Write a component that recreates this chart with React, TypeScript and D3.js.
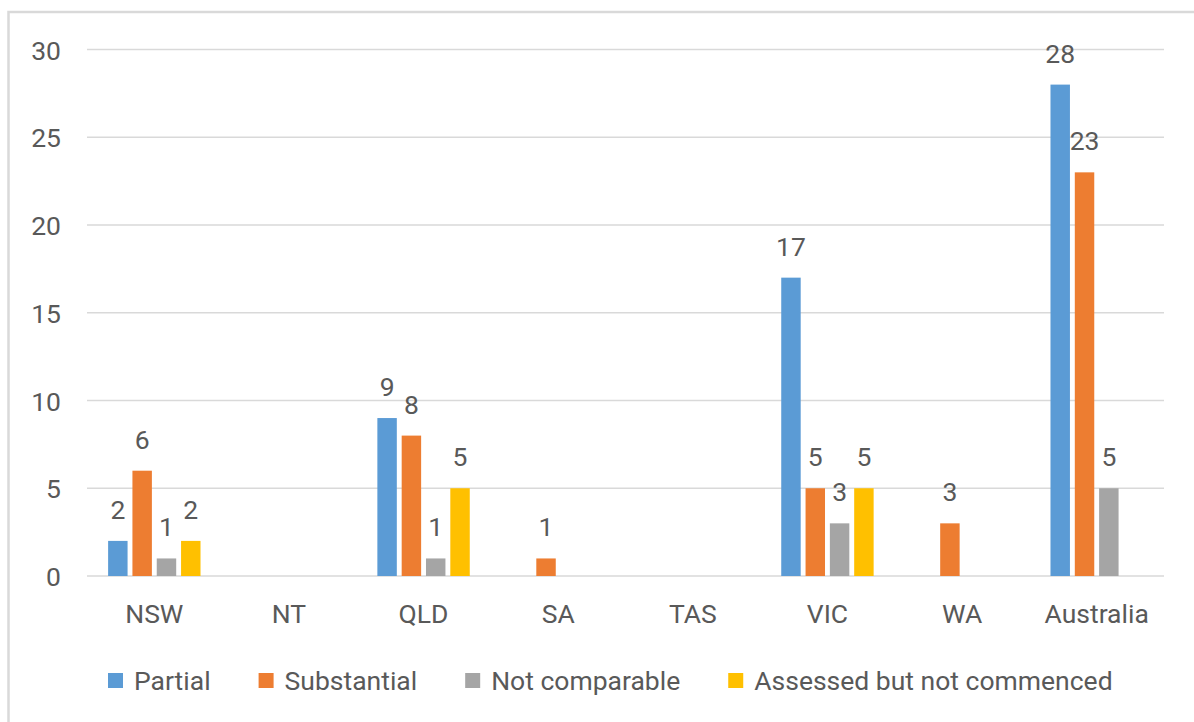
import React, { useRef, useEffect } from 'react';
import * as d3 from 'd3';

const categories = ['NSW', 'NT', 'QLD', 'SA', 'TAS', 'VIC', 'WA', 'Australia'];
const seriesNames = ['Partial', 'Substantial', 'Not comparable', 'Assessed but not commenced'];
const partial = [2, null, 9, null, null, 17, null, 28];
const substantial = [6, null, 8, 1, null, 5, 3, 23];
const notComparable = [1, null, 1, null, null, 3, null, 5];
const assessed = [2, null, 5, null, null, 5, null, null];
const yTicks = [0, 5, 10, 15, 20, 25, 30];
const colors = ['#5B9BD5', '#ED7D31', '#A5A5A5', '#FFC000'];

const W = 1194;
const H = 722;
const FONT = 'Roboto, "Open Sans", sans-serif';
const TEXT = '#595959';
const FS = 26.5;

const App: React.FC = () => {
  const svgRef = useRef<SVGSVGElement>(null);

  useEffect(() => {
    if (!svgRef.current) return;
    const svg = d3.select(svgRef.current);
    svg.selectAll('*').remove();

    const values = [partial, substantial, notComparable, assessed];
    const left = 87, right = 1164, top = 49.5, bottom = 576;

    const x0 = d3.scaleBand<string>().domain(categories).range([left, right]);
    const groupW = 92.4;
    const x1 = d3.scaleBand<string>().domain(seriesNames).range([0, groupW]).paddingInner(0.2);
    const y = d3.scaleLinear().domain([0, 30]).range([bottom, top]);

    // chart border
    svg.append('rect')
      .attr('x', 8.5).attr('y', 12)
      .attr('width', W + 20).attr('height', H + 20)
      .attr('fill', 'white')
      .attr('stroke', '#D9D9D9').attr('stroke-width', 2.5);

    // gridlines
    svg.append('g').selectAll('line')
      .data(yTicks)
      .enter().append('line')
      .attr('x1', left).attr('x2', right)
      .attr('y1', d => y(d)).attr('y2', d => y(d))
      .attr('stroke', '#D9D9D9').attr('stroke-width', 1.5);

    // y labels
    svg.append('g').selectAll('text')
      .data(yTicks)
      .enter().append('text')
      .attr('x', 61).attr('y', d => y(d))
      .attr('dy', '0.38em')
      .attr('text-anchor', 'end')
      .attr('font-family', FONT).attr('font-size', FS)
      .attr('fill', TEXT)
      .text(d => d);

    // x labels
    svg.append('g').selectAll('text')
      .data(categories)
      .enter().append('text')
      .attr('x', d => (x0(d) || 0) + x0.bandwidth() / 2)
      .attr('y', 623)
      .attr('text-anchor', 'middle')
      .attr('font-family', FONT).attr('font-size', FS)
      .attr('fill', TEXT)
      .text(d => d);

    // bars + labels
    type Pt = { cat: string; s: string; si: number; v: number };
    const pts: Pt[] = [];
    categories.forEach((c, ci) => {
      seriesNames.forEach((s, si) => {
        const v = values[si][ci];
        if (v !== null && v !== undefined) pts.push({ cat: c, s, si, v });
      });
    });
    const bx = (d: Pt) => (x0(d.cat) || 0) + (x0.bandwidth() - groupW) / 2 + (x1(d.s) || 0);

    svg.append('g').selectAll('rect')
      .data(pts)
      .enter().append('rect')
      .attr('x', d => bx(d))
      .attr('width', x1.bandwidth())
      .attr('y', d => y(d.v))
      .attr('height', d => bottom - y(d.v))
      .attr('fill', d => colors[d.si]);

    svg.append('g').selectAll('text')
      .data(pts)
      .enter().append('text')
      .attr('x', d => bx(d) + x1.bandwidth() / 2)
      .attr('y', d => y(d.v) - 22)
      .attr('text-anchor', 'middle')
      .attr('font-family', FONT).attr('font-size', FS)
      .attr('fill', TEXT)
      .text(d => d.v);

    // legend
    const lg = svg.append('g');
    let lx = 108;
    seriesNames.forEach((s, i) => {
      lg.append('rect')
        .attr('x', lx).attr('y', 673)
        .attr('width', 15).attr('height', 15)
        .attr('fill', colors[i]);
      const t = lg.append('text')
        .attr('x', lx + 26).attr('y', 690)
        .attr('font-family', FONT).attr('font-size', FS)
        .attr('fill', TEXT)
        .text(s);
      const w = (t.node() as SVGTextElement).getComputedTextLength();
      lx = lx + 26 + w + 48;
    });
  }, []);

  return (
    <svg ref={svgRef} width={W} height={H}
      style={{ position: 'absolute', left: 0, top: 0, display: 'block' }} />
  );
};

export default App;
